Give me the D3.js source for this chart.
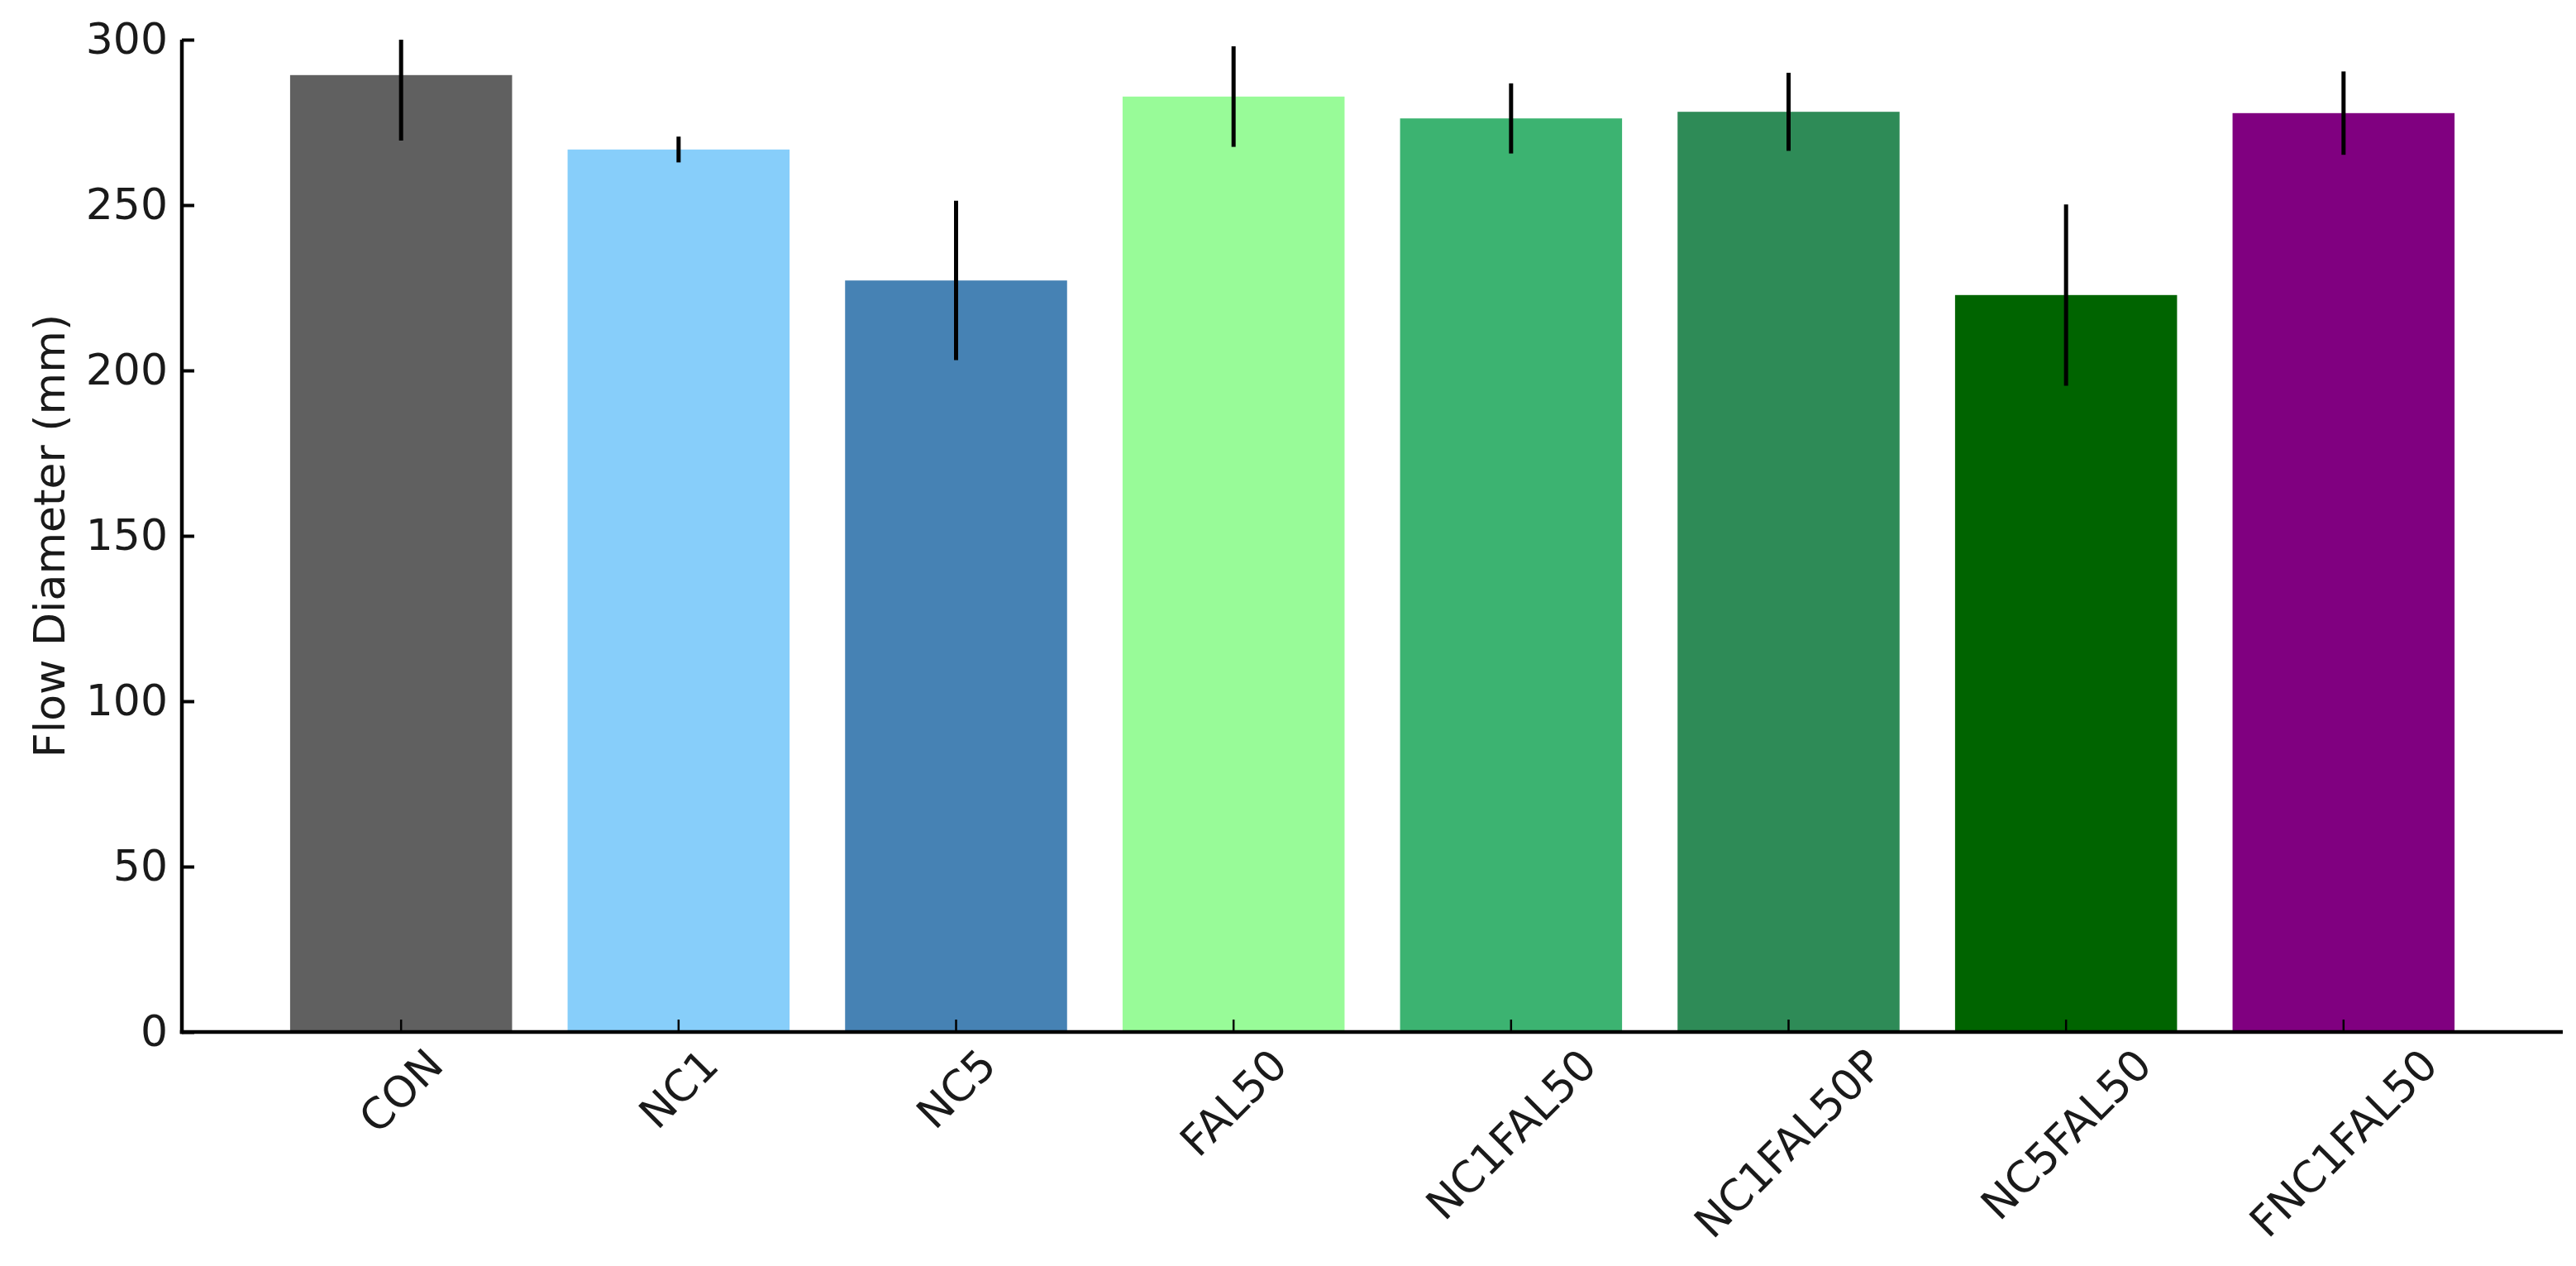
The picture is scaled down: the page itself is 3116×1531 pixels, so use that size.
<!DOCTYPE html>
<html>
<head>
<meta charset="utf-8">
<script src="https://cdn.jsdelivr.net/npm/d3@7"></script>
<style>
  html, body { margin: 0; padding: 0; background: #fff; }
  text { font-family: "DejaVu Sans", sans-serif; }
</style>
</head>
<body>
<div id="grafico"></div>
<script>
const width = 3116;
const height = 1531;

// data
const categorias = ["CON", "NC1", "NC5", "FAL50", "NC1FAL50", "NC1FAL50P", "NC5FAL50", "FNC1FAL50"];
const medias = [289.3, 266.8, 227.2, 282.8, 276.2, 278.2, 222.8, 277.8];
const errores = [19.8, 3.9, 24.1, 15.2, 10.6, 11.8, 27.4, 12.6];
const colores = ["#606060", "#87cefa", "#4682b4", "#98fb98", "#3cb371", "#2e8b57", "#006400", "#800080"];
const ticksY = [0, 50, 100, 150, 200, 250, 300];
const tituloY = "Flow Diameter (mm)";

const margin = {top: 48, right: 16, bottom: 283, left: 220};
const fontSize = 52;

const svg = d3.select("#grafico")
  .append("svg")
  .attr("width", width)
  .attr("height", height);

svg.append("rect").attr("width", width).attr("height", height).attr("fill", "#fff");

const x = d3.scaleBand()
  .domain(categorias)
  .range([margin.left, width - margin.right])
  .paddingInner(0.2)
  .paddingOuter(0.39);

const y = d3.scaleLinear()
  .domain([0, 300])
  .range([height - margin.bottom, margin.top]);

const datos = categorias.map((c, i) => ({cat: c, valor: medias[i], err: errores[i], color: colores[i]}));

// clip so the error bars stop at the top of the axis (ylim 0-300)
svg.append("defs").append("clipPath").attr("id", "zona")
  .append("rect")
  .attr("x", margin.left)
  .attr("y", y(300))
  .attr("width", width - margin.right - margin.left)
  .attr("height", y(0) - y(300));

const g = svg.append("g").attr("clip-path", "url(#zona)");

// barras
g.selectAll(".barra")
  .data(datos)
  .join("rect")
  .attr("class", "barra")
  .attr("x", d => x(d.cat))
  .attr("width", x.bandwidth())
  .attr("y", d => y(d.valor))
  .attr("height", d => y(0) - y(d.valor))
  .attr("fill", d => d.color);

// barras de error (sin remates)
g.selectAll(".error")
  .data(datos)
  .join("line")
  .attr("class", "error")
  .attr("x1", d => x(d.cat) + x.bandwidth() / 2)
  .attr("x2", d => x(d.cat) + x.bandwidth() / 2)
  .attr("y1", d => y(d.valor - d.err))
  .attr("y2", d => y(d.valor + d.err))
  .attr("stroke", "#000")
  .attr("stroke-width", 5);

// eje Y
const ejeY = svg.append("g")
  .attr("transform", `translate(${margin.left},0)`)
  .call(d3.axisLeft(y).tickValues(ticksY).tickSize(-15).tickPadding(17).tickFormat(d3.format("d")));
ejeY.select(".domain").attr("stroke", "#000").attr("stroke-width", 4.5)
  .attr("d", `M0,${y(300)}V${y(0) + 2.25}`);
ejeY.selectAll(".tick line").attr("stroke", "#000").attr("stroke-width", 4);
ejeY.selectAll(".tick text")
  .attr("x", -17)
  .attr("font-size", fontSize)
  .attr("fill", "#1a1a1a");

// eje X
const ejeX = svg.append("g")
  .attr("transform", `translate(0,${y(0)})`)
  .call(d3.axisBottom(x).tickSize(-15).tickSizeOuter(0));
ejeX.select(".domain").attr("stroke", "#000").attr("stroke-width", 4.5)
  .attr("d", `M${margin.left - 2.25},0H${width - margin.right}`);
ejeX.selectAll(".tick line").attr("stroke", "#000").attr("stroke-width", 2.5);

// etiquetas giradas 45°, caja centrada bajo cada marca (como matplotlib)
ejeX.selectAll(".tick text").remove();
const pad = 12;
const altoTexto = fontSize * 1.0;
ejeX.selectAll(".tick").each(function(d) {
  const t = d3.select(this).append("text")
    .attr("font-size", fontSize)
    .attr("fill", "#1a1a1a")
    .attr("text-anchor", "middle")
    .attr("dominant-baseline", "central")
    .text(d);
  const w = t.node().getComputedTextLength();
  const lado = (w + altoTexto) / Math.SQRT2;
  t.attr("transform", `translate(0,${pad + lado / 2}) rotate(-45)`);
});

// título eje Y
svg.append("text")
  .attr("transform", `translate(78,${(y(0) + y(300)) / 2}) rotate(-90)`)
  .attr("text-anchor", "middle")
  .attr("font-size", fontSize)
  .attr("fill", "#1a1a1a")
  .text(tituloY);
</script>
</body>
</html>
